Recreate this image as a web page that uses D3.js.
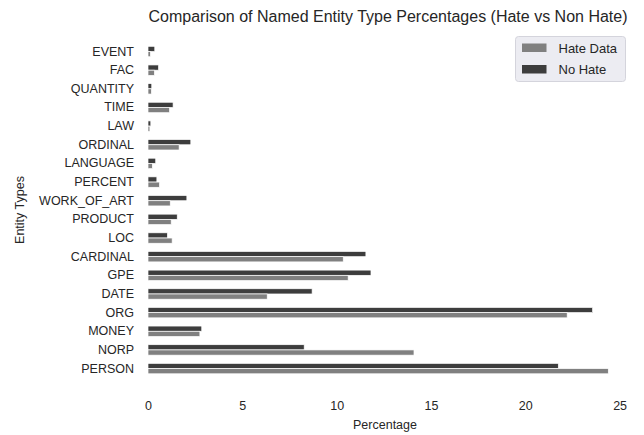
<!DOCTYPE html>
<html>
<head>
<meta charset="utf-8">
<script src="https://cdn.jsdelivr.net/npm/d3@7"></script>
<style>
  html, body { margin: 0; padding: 0; background: #ffffff; }
  svg { display: block; font-family: "Liberation Sans", Arial, sans-serif; }
</style>
</head>
<body>
<svg id="chart" width="644" height="435"></svg>
<script>
// Categories, top to bottom
const categories = ["EVENT","FAC","QUANTITY","TIME","LAW","ORDINAL","LANGUAGE","PERCENT","WORK_OF_ART","PRODUCT","LOC","CARDINAL","GPE","DATE","ORG","MONEY","NORP","PERSON"];
// Percentages
const hateData = [0.13,0.34,0.18,1.14,0.10,1.65,0.23,0.61,1.18,1.23,1.28,10.35,10.61,6.32,22.22,2.75,14.10,24.40];
const noHate   = [0.36,0.56,0.20,1.33,0.15,2.27,0.41,0.47,2.06,1.55,1.03,11.55,11.82,8.70,23.57,2.85,8.28,21.75];
const xTicks = [0,5,10,15,20,25];
const seriesNames = ["Hate Data","No Hate"];

const colors = {"Hate Data":"#808080","No Hate":"#3d3d3d"};
const textColor = "#262626";
const svg = d3.select("#chart");
const m = {left:148, right:630, top:42.2, bottom:377.9};

const x = d3.scaleLinear().domain([0,25.55]).range([m.left, m.right]);
const y = d3.scaleBand().domain(categories).range([m.top, m.bottom]).paddingInner(0).paddingOuter(0);
const bw = y.bandwidth()*0.28;

const rows = categories.map((c,i)=>({cat:c, hate:hateData[i], noh:noHate[i]}));

// No Hate bars (upper)
svg.append("g").selectAll("rect").data(rows).join("rect")
  .attr("x", x(0))
  .attr("y", d => y(d.cat) + y.bandwidth()/2 - bw)
  .attr("width", d => x(d.noh) - x(0))
  .attr("height", bw)
  .attr("fill", colors["No Hate"])
  .attr("stroke","#ffffff").attr("stroke-width",0.7);

// Hate Data bars (lower)
svg.append("g").selectAll("rect").data(rows).join("rect")
  .attr("x", x(0))
  .attr("y", d => y(d.cat) + y.bandwidth()/2)
  .attr("width", d => x(d.hate) - x(0))
  .attr("height", bw)
  .attr("fill", colors["Hate Data"])
  .attr("stroke","#ffffff").attr("stroke-width",0.7);

// Axes (no lines, labels only)
const xAxis = svg.append("g").attr("transform", `translate(0,${m.bottom})`)
  .call(d3.axisBottom(x).tickValues(xTicks).tickSize(0).tickPadding(0).tickFormat(d3.format("d")));
xAxis.select(".domain").remove();
xAxis.selectAll("text").attr("font-size","12.5px").attr("fill",textColor)
  .attr("font-family","Liberation Sans, Arial, sans-serif")
  .attr("dy", null).attr("y", 32.5);

const yAxis = svg.append("g").attr("transform", `translate(${m.left},0)`)
  .call(d3.axisLeft(y).tickSize(0).tickPadding(14));
yAxis.select(".domain").remove();
yAxis.selectAll("text").attr("font-size","12.5px").attr("fill",textColor)
  .attr("font-family","Liberation Sans, Arial, sans-serif");

// Axis titles
svg.append("text").attr("x", (m.left+m.right)/2 - 4).attr("y", 428.5)
  .attr("text-anchor","middle").attr("font-size","12.5px").attr("fill",textColor)
  .text("Percentage");
svg.append("text").attr("transform","translate(24,210) rotate(-90)")
  .attr("text-anchor","middle").attr("font-size","12.5px").attr("fill",textColor)
  .text("Entity Types");

// Title
svg.append("text").attr("x", 388).attr("y", 22)
  .attr("text-anchor","middle").attr("font-size","16px").attr("fill",textColor)
  .text("Comparison of Named Entity Type Percentages (Hate vs Non Hate)");

// Legend
const lg = svg.append("g");
lg.append("rect").attr("x",515.5).attr("y",36.5).attr("width",110).attr("height",45).attr("rx",3)
  .attr("fill","#ececf2").attr("stroke","#d4d4dc").attr("stroke-width",1);
seriesNames.forEach((s,i)=>{
  const yy = 48 + i*21.5;
  lg.append("rect").attr("x",522).attr("y",yy-4.5).attr("width",24.5).attr("height",8.5)
    .attr("fill",colors[s]);
  lg.append("text").attr("x",558.5).attr("y",yy).attr("dy","0.35em")
    .attr("font-size","13px").attr("fill",textColor).text(s);
});
</script>
</body>
</html>
